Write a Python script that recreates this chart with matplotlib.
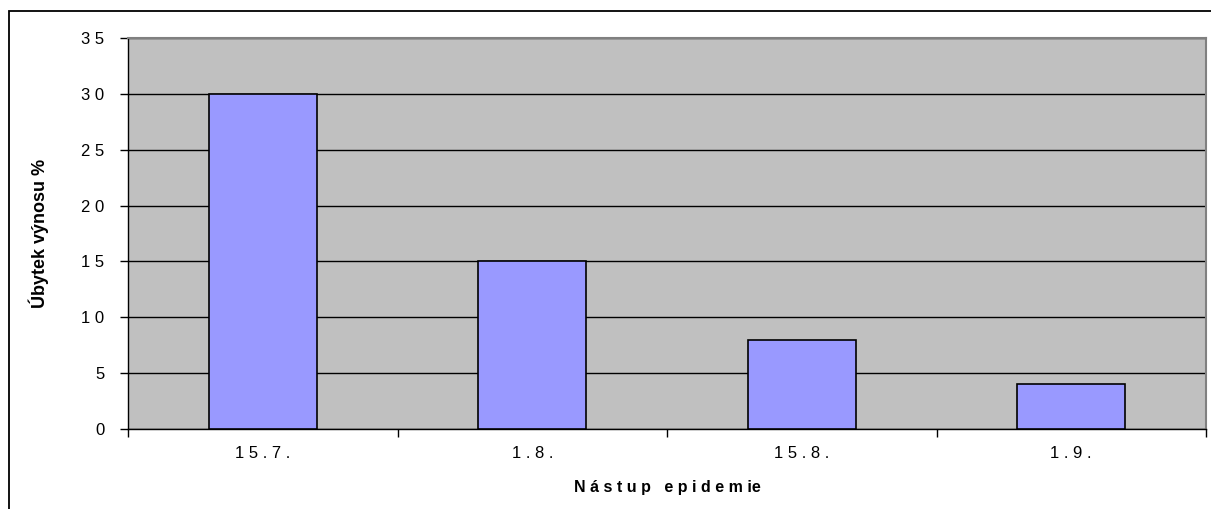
import matplotlib.pyplot as plt
from matplotlib.patches import Rectangle

plt.rcParams['font.family'] = ['Liberation Sans', 'DejaVu Sans']

# data
categories = ['1 5 . 7 .', '1 . 8 .', '1 5 . 8 .', '1 . 9 .']
losses = [30, 15, 8, 4]
y_ticks = [0, 5, 10, 15, 20, 25, 30, 35]
y_tick_labels = ['0', '5', '1 0', '1 5', '2 0', '2 5', '3 0', '3 5']

fig = plt.figure(figsize=(12.11, 5.09), dpi=100)
ax = fig.add_axes([128 / 1211, 1 - 429 / 509, (1206 - 128) / 1211, (429 - 38) / 509])

# outer chart border (partly cut off at the right and bottom)
fig.patches.append(Rectangle((9 / 1211, -0.1), 1.2, 1 - 11 / 509 + 0.1,
                             transform=fig.transFigure, fill=False,
                             edgecolor='black', linewidth=1.3))

ax.set_facecolor('#C0C0C0')
x = list(range(len(categories)))
ax.bar(x, losses, width=0.4, color='#9999FF', edgecolor='black', linewidth=1.2, zorder=3)

ax.set_xlim(-0.5, len(categories) - 0.5)
ax.set_ylim(0, 35)
ax.set_yticks(y_ticks)
ax.set_yticklabels(y_tick_labels, fontsize=12)
ax.yaxis.grid(True, color='black', linewidth=1, zorder=1)
ax.set_axisbelow(True)

# category labels centred, ticks at the boundaries
ax.set_xticks(x)
ax.set_xticklabels(categories, fontsize=12)
ax.tick_params(axis='x', which='major', length=0, pad=12)
ax.set_xticks([i + 0.5 for i in range(-1, len(categories))], minor=True)
ax.tick_params(axis='x', which='minor', length=6, width=1, direction='out')
ax.tick_params(axis='y', length=6, width=1, direction='out', pad=11)

for side in ['top', 'right']:
    ax.spines[side].set_color('#808080')
    ax.spines[side].set_linewidth(1.5)
for side in ['left', 'bottom']:
    ax.spines[side].set_color('black')
    ax.spines[side].set_linewidth(1)

ax.set_xlabel('N á s t u p   e p i d e m ie', fontsize=11.5, fontweight='bold', labelpad=14)
ax.set_ylabel('Úbytek výnosu %', fontsize=13, fontweight='bold', labelpad=23)

plt.savefig('out.png', dpi=100)
